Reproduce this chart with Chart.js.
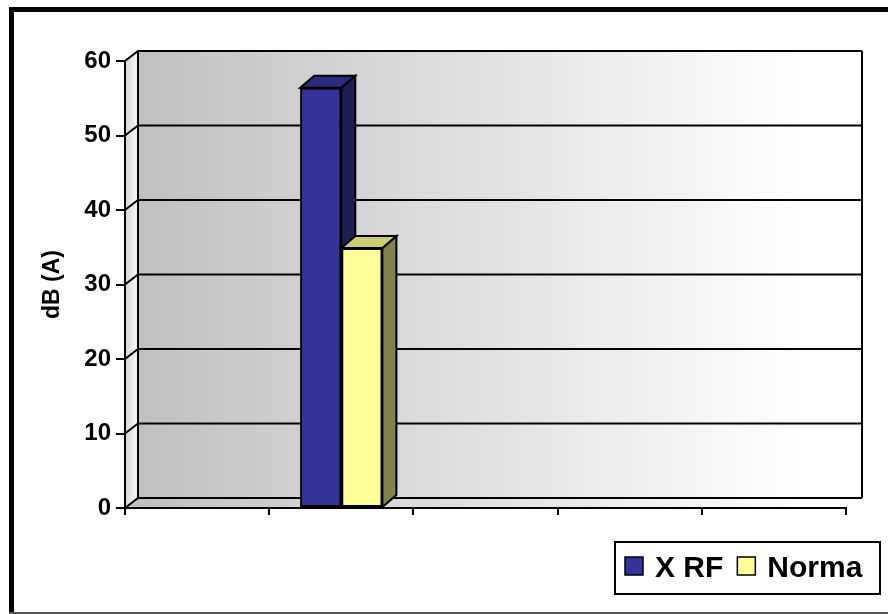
<!DOCTYPE html>
<html>
<head>
<meta charset="utf-8">
<script src="https://cdn.jsdelivr.net/npm/chart.js@4/dist/chart.umd.min.js"></script>
<style>
  html, body { margin: 0; padding: 0; background: #ffffff; }
  canvas { display: block; }
</style>
</head>
<body>
<canvas id="chart" width="888" height="614"></canvas>
<script>
// Chart data
const categories = ['', '', '', '', ''];
const xrfValues = [null, 56.4, null, null, null];
const normaValues = [null, 34.9, null, null, null];
const seriesNames = ['X RF', 'Norma'];
const yAxisTitle = 'dB (A)';

// 3D look: depth offsets of the walls and of the columns
const WALL_DX = 13, WALL_DY = -10, WALL_RIGHT_EXTRA = 16;
const BAR_DX = 14, BAR_DY = -12;
const FONT = '"Liberation Sans", Arial, Helvetica, sans-serif';

// Back wall, side wall, floor, gridlines and outer frame
const wallsPlugin = {
  id: 'walls',
  beforeDraw(chart) {
    const ctx = chart.ctx;
    const { left: L, right: R, top: T, bottom: B } = chart.chartArea;
    const ys = chart.scales.y;
    const bl = L + WALL_DX, br = R + WALL_RIGHT_EXTRA;
    ctx.save();

    const grad = ctx.createLinearGradient(bl, 0, br, 0);
    grad.addColorStop(0, '#c0c0c0');
    grad.addColorStop(0.92, '#ffffff');
    grad.addColorStop(1, '#ffffff');

    // back wall
    ctx.fillStyle = grad;
    ctx.fillRect(bl, T + WALL_DY, br - bl, B - T);

    // floor
    ctx.beginPath();
    ctx.moveTo(L, B);
    ctx.lineTo(bl, B + WALL_DY);
    ctx.lineTo(br, B + WALL_DY);
    ctx.lineTo(R, B);
    ctx.closePath();
    ctx.fill();

    // side wall
    const sg = ctx.createLinearGradient(L, 0, bl, 0);
    sg.addColorStop(0, '#d4d4d4');
    sg.addColorStop(1, '#fafafa');
    ctx.fillStyle = sg;
    ctx.beginPath();
    ctx.moveTo(L, T);
    ctx.lineTo(bl, T + WALL_DY);
    ctx.lineTo(bl, B + WALL_DY);
    ctx.lineTo(L, B);
    ctx.closePath();
    ctx.fill();

    // gridlines running across the side wall and the back wall
    ctx.strokeStyle = '#000000';
    ctx.lineWidth = 2;
    ys.ticks.forEach(t => {
      const y = ys.getPixelForValue(t.value);
      ctx.beginPath();
      ctx.moveTo(L, y);
      ctx.lineTo(bl, y + WALL_DY);
      ctx.lineTo(br, y + WALL_DY);
      ctx.stroke();
    });
    // wall edges
    ctx.beginPath();
    ctx.moveTo(bl, T + WALL_DY);
    ctx.lineTo(bl, B + WALL_DY);
    ctx.moveTo(br, T + WALL_DY);
    ctx.lineTo(br, B + WALL_DY);
    ctx.stroke();

    // outer frame
    ctx.fillStyle = '#000000';
    ctx.fillRect(9, 7, chart.width - 9, 5);
    ctx.fillRect(9, 7, 5, chart.height - 7);
    ctx.fillStyle = '#555555';
    ctx.fillRect(9, chart.height - 2, chart.width - 9, 2);
    ctx.restore();
  }
};

// Side and top faces of each column
const columns3dPlugin = {
  id: 'columns3d',
  afterDatasetsDraw(chart) {
    const ctx = chart.ctx;
    chart.data.datasets.forEach((ds, i) => {
      const meta = chart.getDatasetMeta(i);
      meta.data.forEach((bar, j) => {
        if (ds.data[j] == null) return;
        const p = bar.getProps(['x', 'y', 'base', 'width'], true);
        const l = p.x - p.width / 2, r = p.x + p.width / 2;
        const t = Math.min(p.y, p.base), b = Math.max(p.y, p.base);
        ctx.save();
        ctx.lineWidth = 2;
        ctx.strokeStyle = '#000000';
        ctx.lineJoin = 'miter';
        // side
        ctx.beginPath();
        ctx.moveTo(r, t);
        ctx.lineTo(r + BAR_DX, t + BAR_DY);
        ctx.lineTo(r + BAR_DX, b + BAR_DY);
        ctx.lineTo(r, b);
        ctx.closePath();
        ctx.fillStyle = ds.sideColor;
        ctx.fill();
        ctx.stroke();
        // top
        ctx.beginPath();
        ctx.moveTo(l, t);
        ctx.lineTo(l + BAR_DX, t + BAR_DY);
        ctx.lineTo(r + BAR_DX, t + BAR_DY);
        ctx.lineTo(r, t);
        ctx.closePath();
        ctx.fillStyle = ds.topColor;
        ctx.fill();
        ctx.stroke();
        ctx.restore();
        bar.draw(ctx);
      });
    });
  }
};

// Boxed legend at the lower right
const boxLegendPlugin = {
  id: 'boxLegend',
  afterDraw(chart) {
    const ctx = chart.ctx;
    const box = { x: 615, y: 542, w: 265, h: 52 };
    ctx.save();
    ctx.lineWidth = 2;
    ctx.strokeStyle = '#000000';
    ctx.strokeRect(box.x, box.y, box.w, box.h);
    ctx.font = 'bold 30px ' + FONT;
    ctx.textBaseline = 'alphabetic';
    ctx.textAlign = 'left';
    let x = box.x + 10;
    chart.data.datasets.forEach(ds => {
      ctx.fillStyle = ds.backgroundColor;
      ctx.fillRect(x, box.y + 15, 18, 18);
      ctx.lineWidth = 1.5;
      ctx.strokeRect(x, box.y + 15, 18, 18);
      ctx.fillStyle = '#000000';
      ctx.fillText(ds.label, x + 30, box.y + 35);
      x += 30 + ctx.measureText(ds.label).width + 14;
    });
    ctx.restore();
  }
};

new Chart(document.getElementById('chart'), {
  type: 'bar',
  data: {
    labels: categories,
    datasets: [
      {
        label: seriesNames[0],
        data: xrfValues,
        backgroundColor: '#333399',
        sideColor: '#1e1e52',
        topColor: '#2b2b7d',
        borderColor: '#000000',
        borderWidth: 2,
        borderSkipped: false
      },
      {
        label: seriesNames[1],
        data: normaValues,
        backgroundColor: '#ffff99',
        sideColor: '#808050',
        topColor: '#cccc77',
        borderColor: '#000000',
        borderWidth: 2,
        borderSkipped: false
      }
    ]
  },
  options: {
    responsive: false,
    animation: false,
    devicePixelRatio: 1,
    categoryPercentage: 0.57,
    barPercentage: 1.0,
    layout: { padding: { left: 14, top: 61, right: 42, bottom: 10 } },
    plugins: {
      legend: { display: false },
      tooltip: { enabled: false }
    },
    scales: {
      x: {
        offset: true,
        grid: { offset: true, drawOnChartArea: false, drawTicks: true, tickLength: 7, color: '#000000', lineWidth: 2 },
        border: { display: true, color: '#000000', width: 2 },
        ticks: { display: false },
        afterFit(scale) { scale.height = 96; }
      },
      y: {
        min: 0,
        max: 60,
        ticks: {
          stepSize: 10,
          color: '#000000',
          padding: 5,
          font: { family: FONT, size: 24, weight: 'bold' }
        },
        grid: { drawOnChartArea: false, drawTicks: true, tickLength: 9, color: '#000000', lineWidth: 2 },
        border: { display: true, color: '#000000', width: 2 },
        title: {
          display: true,
          text: yAxisTitle,
          color: '#000000',
          font: { family: FONT, size: 23, weight: 'bold' },
          padding: { top: 25, bottom: 0 }
        },
        afterFit(scale) { scale.width = 111; }
      }
    }
  },
  plugins: [wallsPlugin, columns3dPlugin, boxLegendPlugin]
});
</script>
</body>
</html>
